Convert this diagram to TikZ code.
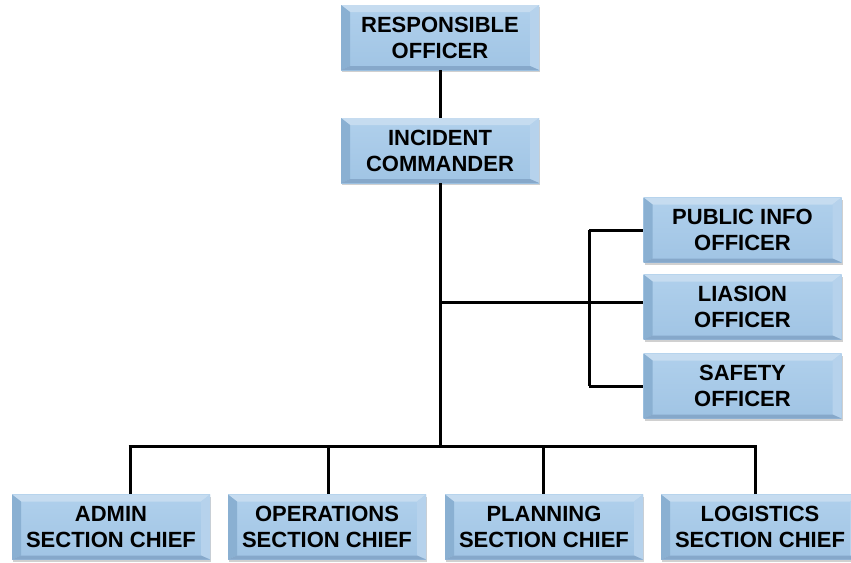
\documentclass[tikz,border=0pt]{standalone}
\usepackage{fontspec}
\setmainfont{Liberation Sans}
\usetikzlibrary{shadows}
\definecolor{facetop}{RGB}{176,208,236}
\definecolor{facebot}{RGB}{160,196,228}
\definecolor{bvtop}{RGB}{198,220,240}
\definecolor{bvleft}{RGB}{138,176,210}
\definecolor{bvright}{RGB}{182,210,236}
\definecolor{bvbot}{RGB}{134,168,202}
\tikzset{
  x=1pt,y=1pt,
  orgbox/.style={draw=none, minimum width=198pt, minimum height=65pt, inner sep=0pt,
    align=center, font=\fontsize{22}{26}\selectfont\bfseries,
    top color=facetop, bottom color=facebot,
    drop shadow={shadow xshift=1pt, shadow yshift=-2pt, opacity=0.3, fill=black!60},
    path picture={
      \fill[bvtop] (path picture bounding box.north west) -- (path picture bounding box.north east)
        -- ([xshift=-9pt,yshift=-7pt]path picture bounding box.north east)
        -- ([xshift=9pt,yshift=-7pt]path picture bounding box.north west) -- cycle;
      \fill[bvleft] (path picture bounding box.north west) -- (path picture bounding box.south west)
        -- ([xshift=9pt,yshift=4pt]path picture bounding box.south west)
        -- ([xshift=9pt,yshift=-7pt]path picture bounding box.north west) -- cycle;
      \fill[bvright] (path picture bounding box.north east) -- (path picture bounding box.south east)
        -- ([xshift=-9pt,yshift=4pt]path picture bounding box.south east)
        -- ([xshift=-9pt,yshift=-7pt]path picture bounding box.north east) -- cycle;
      \fill[bvbot] (path picture bounding box.south west) -- (path picture bounding box.south east)
        -- ([xshift=-9pt,yshift=4pt]path picture bounding box.south east)
        -- ([xshift=9pt,yshift=4pt]path picture bounding box.south west) -- cycle;
    }},
  conn/.style={line width=3pt, black}
}
\begin{document}
\begin{tikzpicture}
\useasboundingbox (0,0) rectangle (851,-562);
\fill[white] (0,0) rectangle (851,-562);
% nodes
\node[orgbox] (ro) at (440,-37.5) {RESPONSIBLE\\OFFICER};
\node[orgbox] (ic) at (440,-150.5) {INCIDENT\\COMMANDER};
\node[orgbox] (pi) at (742.5,-230) {PUBLIC INFO\\OFFICER};
\node[orgbox] (li) at (742.5,-307) {LIASION\\OFFICER};
\node[orgbox] (sa) at (742.5,-386) {SAFETY\\OFFICER};
\node[orgbox] (ad) at (111,-527) {ADMIN\\SECTION CHIEF};
\node[orgbox] (op) at (327,-527) {OPERATIONS\\SECTION CHIEF};
\node[orgbox] (pl) at (544,-527) {PLANNING\\SECTION CHIEF};
\node[orgbox] (lo) at (760,-527) {LOGISTICS\\SECTION CHIEF};
% junction coordinates
\coordinate (mid) at (440,-302);
\coordinate (bar) at (440,-446);
\coordinate (st) at (589,-302);
\coordinate (b1) at (130,-446);
\coordinate (b2) at (328,-446);
\coordinate (b3) at (543,-446);
\coordinate (b4) at (755,-446);
% connectors
\draw[conn] (ro.south) -- (ic.north);
\draw[conn] (ic.south) -- (bar);
\draw[conn] (mid) -- (mid -| li.west);
\draw[conn] (st |- pi.west) -- (st |- sa.west);
\draw[conn] (st |- pi.west) -- (pi.west);
\draw[conn] (st |- sa.west) -- (sa.west);
\draw[conn] ([xshift=-1.5pt]b1) -- ([xshift=1.5pt]b4);
\draw[conn] (b1) -- (b1 |- ad.north);
\draw[conn] (b2) -- (b2 |- op.north);
\draw[conn] (b3) -- (b3 |- pl.north);
\draw[conn] (b4) -- (b4 |- lo.north);
\end{tikzpicture}
\end{document}
